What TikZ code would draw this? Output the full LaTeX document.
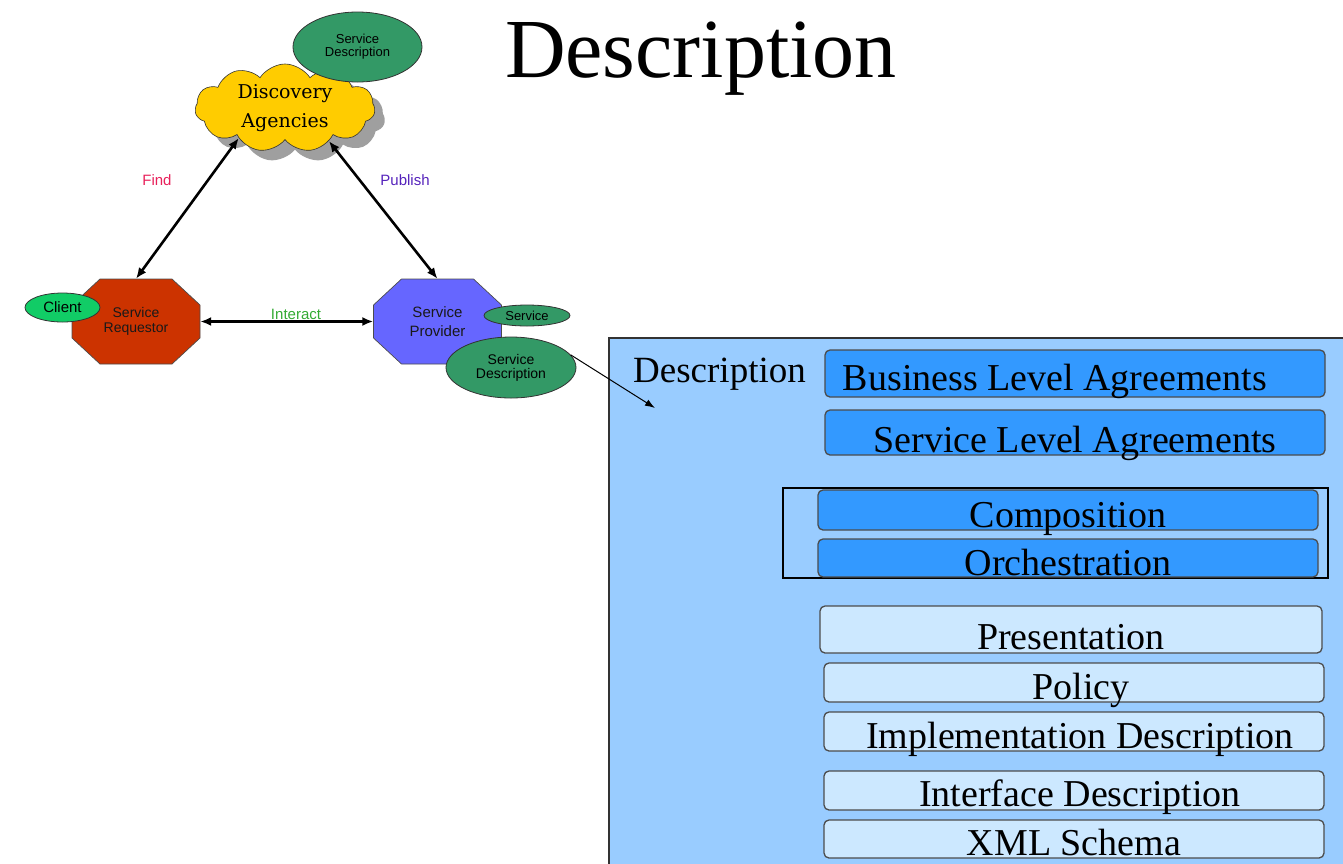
\documentclass[tikz,border=0pt]{standalone}
\usepackage{fontspec}
\setmainfont{Liberation Serif}
\newfontfamily\sansf{Liberation Sans}
\newfontfamily\slabf{DejaVu Serif}
\usetikzlibrary{shapes.geometric,shapes.symbols,shadows,arrows.meta}

\definecolor{panelblue}{HTML}{99CCFF}
\definecolor{midblue}{HTML}{3399FF}
\definecolor{paleblue}{HTML}{CCE8FF}
\definecolor{sdgreen}{HTML}{339966}
\definecolor{clientgreen}{HTML}{11CC66}
\definecolor{cloudyellow}{HTML}{FFCC00}
\definecolor{reqred}{HTML}{CC3300}
\definecolor{provblue}{HTML}{6666FF}
\definecolor{findred}{HTML}{E8205A}
\definecolor{pubpurple}{HTML}{5522BB}
\definecolor{intgreen}{HTML}{33AA33}

\tikzset{
  greenoval/.style={ellipse, draw=black!80, line width=0.8pt, fill=sdgreen, inner sep=0pt,
    align=center, font=\sansf\fontsize{13}{13}\selectfont},
  octo/.style={draw=black!70, line width=0.7pt},
  octotext/.style={minimum width=128pt, minimum height=85pt, inner sep=0pt, align=center},
  dblarrow/.style={{Latex[length=11pt,width=9pt]}-{Latex[length=11pt,width=9pt]}, line width=2.6pt},
  edgelabel/.style={font=\sansf\fontsize{15}{15}\selectfont},
  pbox/.style={draw=black!70, line width=1.3pt, rounded corners=5pt, minimum width=500pt,
    inner xsep=0pt, inner ysep=0pt, font=\fontsize{38}{38}\selectfont},
}

\begin{document}
\begin{tikzpicture}[x=1pt, y=-1pt]
\useasboundingbox (0,0) rectangle (1343,863);

% title
\node[anchor=base, inner sep=0pt, font=\fontsize{84}{84}\selectfont] (title) at (701,77) {Description};

% ---------- service triangle ----------
\node[cloud, cloud puffs=11, cloud puff arc=115, aspect=2.1, minimum width=180pt, minimum height=88pt,
      draw=black!80, line width=0.6pt, fill=cloudyellow, inner sep=0pt, align=center,
      font=\slabf\fontsize{19}{29}\selectfont,
      drop shadow={shadow xshift=10pt, shadow yshift=-10pt, fill=gray!75, opacity=1}]
      (da) at (285,108) {Discovery\\Agencies};
\node[greenoval, minimum width=129pt, minimum height=70pt] (sdtop) at (357.5,47) {Service\\Description};

% requestor octagon
\coordinate (reqc) at (136,321.5);
\draw[octo, fill=reqred] (reqc) ++(-36,-42.5) -- ++(72,0) -- ++(28,26) -- ++(0,33) -- ++(-28,26)
  -- ++(-72,0) -- ++(-28,-26) -- ++(0,-33) -- cycle;
\node[octotext, font=\sansf\fontsize{14}{15}\selectfont, text=black!90] (req) at (reqc) {Service\\Requestor};

% provider octagon
\coordinate (provc) at (437.5,321.5);
\draw[octo, fill=provblue] (provc) ++(-36,-42.5) -- ++(72,0) -- ++(28,26) -- ++(0,33) -- ++(-28,26)
  -- ++(-72,0) -- ++(-28,-26) -- ++(0,-33) -- cycle;
\node[octotext, font=\sansf\fontsize{15}{19}\selectfont, text=black!90] (prov) at (provc) {Service\\Provider};

\node[ellipse, draw=black!80, line width=0.8pt, fill=clientgreen, minimum width=75pt, minimum height=29pt,
      inner sep=0pt, font=\sansf\fontsize{15}{15}\selectfont] (client) at (62.5,307.5) {Client};
\node[greenoval, minimum width=86pt, minimum height=21pt] (svc) at (527,315.5) {Service};
\node[greenoval, minimum width=130pt, minimum height=61pt, font=\sansf\fontsize{14}{14}\selectfont] (sdprov) at (511,367.5) {Service\\Description};

% connectors
\draw[dblarrow] (da.213) -- (req.north);
\draw[dblarrow] (da.323) -- (prov.north);
\draw[dblarrow] (req.east) -- (prov.west);

\node[edgelabel, text=findred] (lfind) at (157,180) {Find};
\node[edgelabel, text=pubpurple] (lpub) at (405,180) {Publish};
\node[edgelabel, text=intgreen] (lint) at (296,314) {Interact};

% ---------- description stack ----------
\draw[draw=black!80, line width=1.2pt, fill=panelblue] (609,338) rectangle (1360,880);
\node[anchor=base west, inner sep=0pt, font=\fontsize{37}{37}\selectfont] (dlabel) at (633,382) {Description};
\coordinate (tip) at (655,408);
\draw[line width=1pt, -{Latex[length=10pt,width=7pt]}] (sdprov.12) -- (tip);

\draw[black, line width=1.3pt] (783,488) rectangle (1328,578);

\node[pbox, fill=midblue, text height=40pt, text depth=7pt] (bla) at (1075,373.5) {Business Level Agreements\hspace*{40pt}};
\node[pbox, fill=midblue, text height=42pt, text depth=3pt] (sla) at (1075,432.5) {Service Level Agreements};
\node[pbox, fill=midblue, text height=37pt, text depth=3pt] (comp) at (1068,510) {Composition};
\node[pbox, fill=midblue, text height=36pt, text depth=2pt] (orch) at (1068,558) {Orchestration};
\node[pbox, fill=paleblue, minimum width=502pt, text height=43pt, text depth=4pt] (pres) at (1071,629.5) {Presentation};
\node[pbox, fill=paleblue, text height=36pt, text depth=3pt] (pol) at (1074,682.5) {\hspace*{14pt}Policy};
\node[pbox, fill=paleblue, text height=36pt, text depth=3pt] (impl) at (1074,731.5) {\hspace*{12pt}Implementation Description};
\node[pbox, fill=paleblue, text height=35pt, text depth=4pt] (iface) at (1074,790.5) {\hspace*{12pt}Interface Description};
\node[pbox, fill=paleblue, text height=35pt, text depth=3pt] (xsd) at (1074,839) {XML Schema};
\end{tikzpicture}
\end{document}
